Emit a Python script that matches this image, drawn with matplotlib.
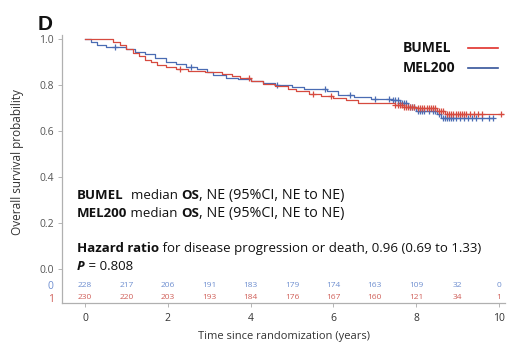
import matplotlib
matplotlib.use("Agg")
import matplotlib.pyplot as plt

# ---- data ----
bumel_t = [0, 0.68, 0.85, 1.0, 1.15, 1.3, 1.45, 1.6, 1.75, 1.95, 2.2, 2.5, 2.9, 3.3, 3.55, 3.75,
           4.0, 4.3, 4.6, 4.9, 5.1, 5.4, 5.7, 6.0, 6.3, 6.6, 7.5, 7.7, 8.0, 8.5, 8.7, 10.1]
bumel_s = [1.0, 0.987, 0.975, 0.955, 0.94, 0.925, 0.91, 0.9, 0.888, 0.878, 0.868, 0.862, 0.855, 0.848,
           0.838, 0.828, 0.815, 0.805, 0.795, 0.783, 0.772, 0.762, 0.750, 0.742, 0.733, 0.722, 0.714,
           0.706, 0.698, 0.685, 0.672, 0.672]
mel_t = [0, 0.15, 0.3, 0.5, 1.0, 1.2, 1.45, 1.7, 1.95, 2.2, 2.45, 2.7, 2.95, 3.1, 3.4, 3.7, 4.0, 4.3,
         4.6, 5.0, 5.3, 5.85, 6.1, 6.5, 6.9, 7.45, 7.6, 7.8, 8.0, 8.5, 8.6, 9.85]
mel_s = [1.0, 0.985, 0.975, 0.965, 0.955, 0.945, 0.935, 0.915, 0.9, 0.89, 0.878, 0.868, 0.858, 0.845,
         0.832, 0.824, 0.815, 0.808, 0.8, 0.79, 0.782, 0.772, 0.758, 0.748, 0.74, 0.735, 0.72, 0.705,
         0.685, 0.672, 0.655, 0.655]
bumel_cens = [2.3, 3.95, 5.5, 5.95, 7.5, 7.55, 7.6, 7.65, 7.7, 7.75, 7.8, 7.85, 7.9, 7.95, 8.05, 8.1,
              8.15, 8.2, 8.25, 8.3, 8.35, 8.4, 8.45, 8.55, 8.6, 8.65, 8.75, 8.8, 8.85, 8.9, 8.95, 9.0,
              9.05, 9.1, 9.15, 9.2, 9.3, 9.4, 9.5, 9.6, 10.05]
mel_cens = [0.72, 2.55, 4.65, 5.8, 6.4, 7.0, 7.35, 7.45, 7.5, 7.55, 7.6, 7.65, 7.7, 7.75, 7.85, 7.9,
            7.95, 8.05, 8.1, 8.15, 8.2, 8.3, 8.4, 8.45, 8.55, 8.65, 8.7, 8.75, 8.8, 8.85, 8.9, 8.95,
            9.05, 9.15, 9.25, 9.35, 9.45, 9.6, 9.75, 9.85]
risk_times = [0, 1, 2, 3, 4, 5, 6, 7, 8, 9, 10]
risk_mel = [228, 217, 206, 191, 183, 179, 174, 163, 109, 32, 0]
risk_bumel = [230, 220, 203, 193, 184, 176, 167, 160, 121, 34, 1]
y_ticks = [0.0, 0.2, 0.4, 0.6, 0.8, 1.0]
x_ticks = [0, 2, 4, 6, 8, 10]

RED = "#d64a3f"
BLUE = "#4a6cb3"
RISK_BLUE = "#6f8fd0"
RISK_RED = "#d0605a"
GRAY = "#555555"

plt.rcParams['font.family'] = ['Open Sans', 'DejaVu Sans']

fig = plt.figure(figsize=(5.12, 3.44), dpi=100)
ax = fig.add_axes([62/512, 1-303/344, (505.2-62)/512, (303-35)/344])
ax.set_xlim(-0.555, 10.15)
ax.set_ylim(-0.148, 1.017)


def step_at(ts, ss, x):
    v = ss[0]
    for t, s in zip(ts, ss):
        if t <= x:
            v = s
    return v

ax.step(bumel_t, bumel_s, where='post', color=RED, lw=0.9, zorder=3)
ax.step(mel_t, mel_s, where='post', color=BLUE, lw=0.9, zorder=2)
ax.plot(bumel_cens, [step_at(bumel_t, bumel_s, c) for c in bumel_cens], ls='none', marker='+',
        ms=4.5, mew=0.9, color=RED, zorder=3)
ax.plot(mel_cens, [step_at(mel_t, mel_s, c) for c in mel_cens], ls='none', marker='+',
        ms=4.5, mew=0.9, color=BLUE, zorder=2)

# at-risk numbers
y_mel_row = -0.07
y_bumel_row = -0.126
for t, n in zip(risk_times, risk_mel):
    ax.text(t, y_mel_row, str(n), color=RISK_BLUE, fontsize=6, ha='center', va='center')
for t, n in zip(risk_times, risk_bumel):
    ax.text(t, y_bumel_row, str(n), color=RISK_RED, fontsize=6, ha='center', va='center')

# axes styling
for side in ['top', 'right']:
    ax.spines[side].set_visible(False)
for side in ['left', 'bottom']:
    ax.spines[side].set_color('#b0b0b0')
    ax.spines[side].set_linewidth(0.9)
ax.set_yticks(y_ticks + [y_mel_row, y_bumel_row])
ax.set_yticklabels([f"{v:.1f}" for v in y_ticks] + ['0', '1'])
ax.tick_params(axis='y', length=3, width=0.6, color='#aaaaaa', labelsize=7.5, labelcolor=GRAY, pad=3)
ax.get_yticklabels()[-2].set_color(RISK_BLUE)
ax.get_yticklabels()[-1].set_color(RISK_RED)
ax.yaxis.get_major_ticks()[-1].tick1line.set_visible(False)
ax.yaxis.get_major_ticks()[-2].tick1line.set_visible(False)
ax.set_xticks(x_ticks)
ax.tick_params(axis='x', length=3, width=0.6, color='#aaaaaa', labelsize=7.5, labelcolor='#333333', pad=4)
ax.set_xlabel("Time since randomization (years)", fontsize=8, color='#333333', labelpad=5)
fig.text(18/512, 1-162/344, "Overall survival probability", rotation=90, fontsize=8.5,
         color='#333333', ha='center', va='center')

# panel letter
fig.text(38/512, 1-30/344, "D", fontsize=15, fontweight='bold', ha='left', va='baseline',
         color='#111111', family=['Liberation Sans', 'DejaVu Sans'])

# legend
fig.text(403/512, 1-52/344, "BUMEL", fontsize=10, fontweight='bold', ha='left', va='baseline',
         color='#111111')
fig.text(403/512, 1-72/344, "MEL200", fontsize=10, fontweight='bold', ha='left', va='baseline',
         color='#111111')
fig.lines.append(plt.Line2D([468/512, 498/512], [1-48/344, 1-48/344], transform=fig.transFigure,
                            color='#e0302a', lw=1.2))
fig.lines.append(plt.Line2D([468/512, 498/512], [1-68/344, 1-68/344], transform=fig.transFigure,
                            color='#35549a', lw=1.2))

renderer = fig.canvas.get_renderer()


def rich(x_px, y_px, parts, size=9.5):
    x = x_px
    for s, w, st, sz in parts:
        t = fig.text(x/512, 1-y_px/344, s, fontsize=sz or size, fontweight=w, fontstyle=st,
                     ha='left', va='baseline', color='#111111')
        bb = t.get_window_extent(renderer=renderer)
        x += bb.width

rich(77, 199, [("BUMEL", 'bold', 'normal', None), ("  median ", 'normal', 'normal', None),
               ("OS", 'bold', 'normal', None), (", NE (95%CI, NE to NE)", 'normal', 'normal', 10.3)])
rich(77, 217, [("MEL200", 'bold', 'normal', None), (" median ", 'normal', 'normal', None),
               ("OS", 'bold', 'normal', None), (", NE (95%CI, NE to NE)", 'normal', 'normal', 10.3)])
rich(77, 252, [("Hazard ratio", 'bold', 'normal', None),
               (" for disease progression or death, 0.96 (0.69 to 1.33)", 'normal', 'normal', None)])
rich(77, 270, [("P", 'bold', 'italic', None), (" = 0.808", 'normal', 'normal', None)])

fig.savefig("out.png", dpi=100)
